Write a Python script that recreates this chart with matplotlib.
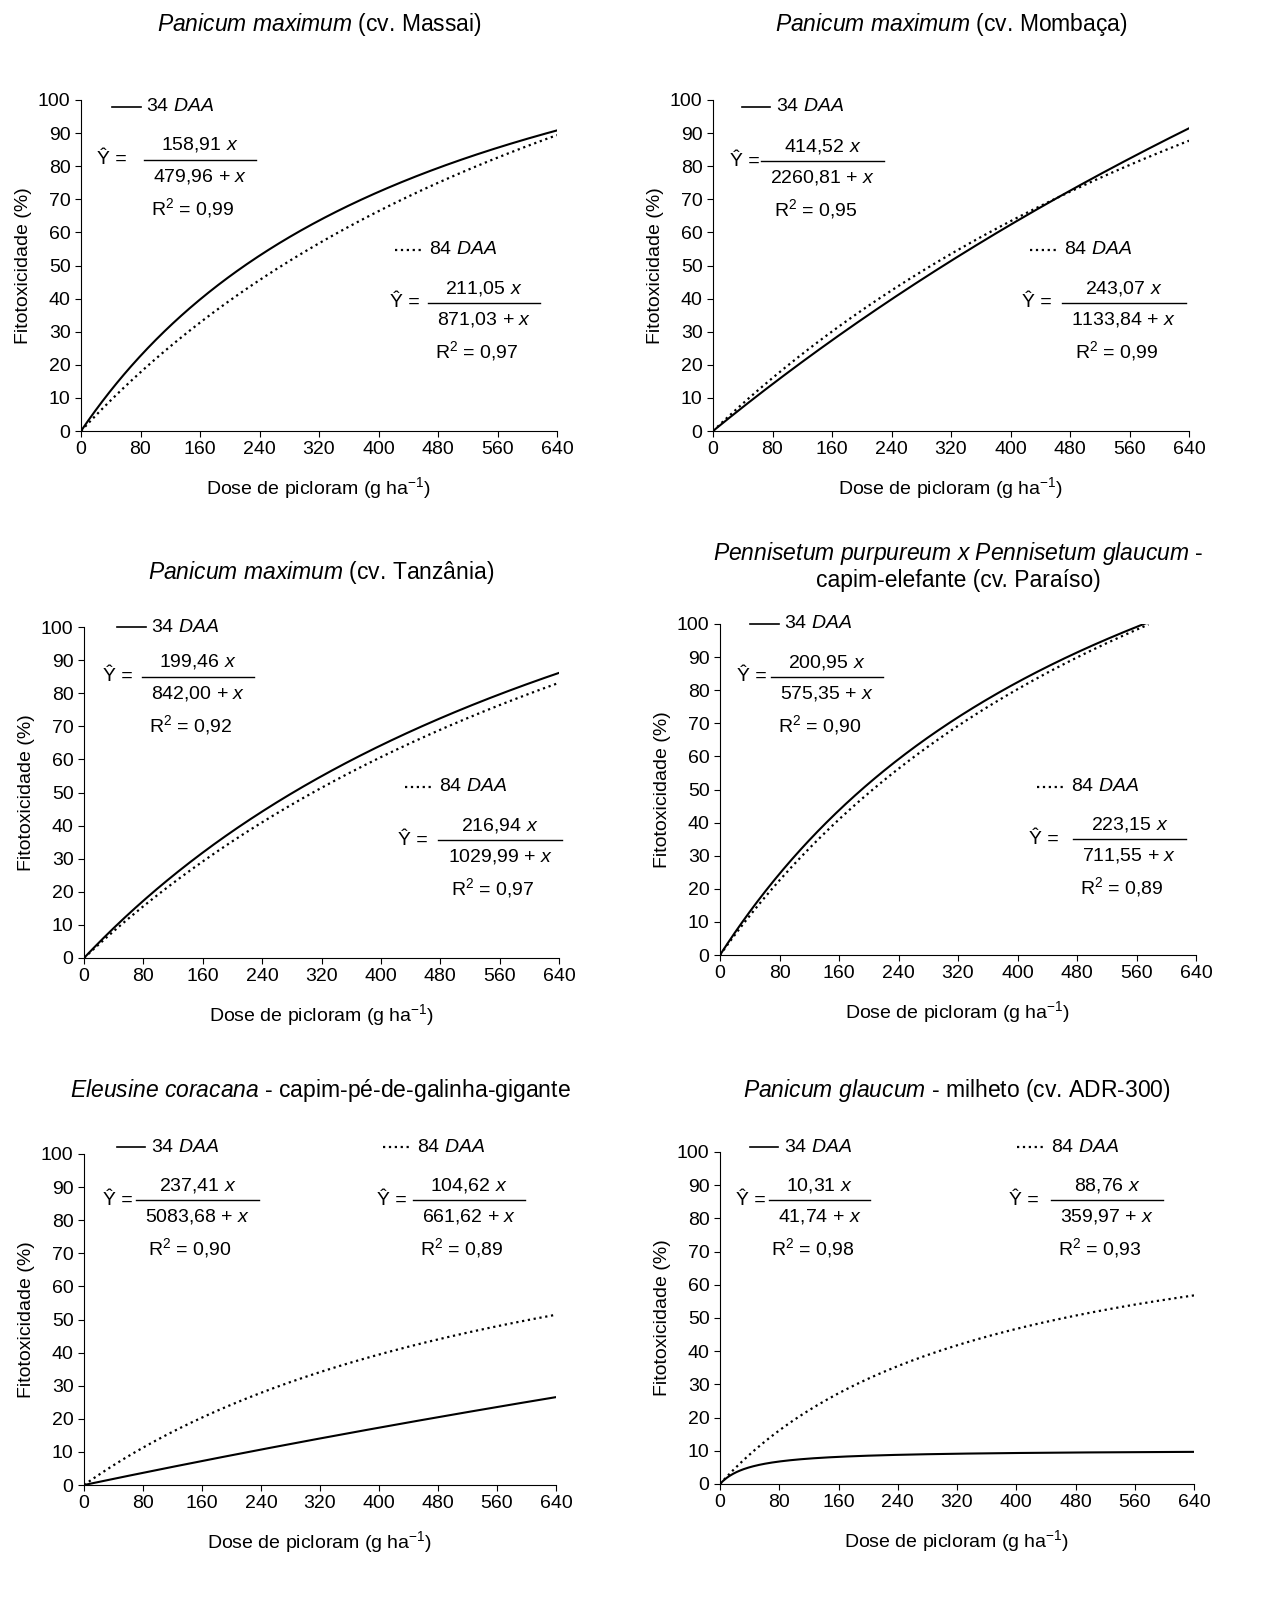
import numpy as np
import matplotlib
matplotlib.use("Agg")
import matplotlib.pyplot as plt

plt.rcParams['font.family'] = ['Liberation Sans', 'DejaVu Sans']
plt.rcParams['mathtext.fontset'] = 'custom'
plt.rcParams['mathtext.rm'] = 'Liberation Sans'
plt.rcParams['mathtext.it'] = 'Liberation Sans:italic'

titles = [r"$\it{Panicum\ maximum}$ (cv. Massai)",
          r"$\it{Panicum\ maximum}$ (cv. Mombaça)",
          r"$\it{Panicum\ maximum}$ (cv. Tanzânia)",
          r"$\it{Pennisetum\ purpureum\ x\ Pennisetum\ glaucum}$ -" + "\n" + "capim-elefante (cv. Paraíso)",
          r"$\it{Eleusine\ coracana}$ - capim-pé-de-galinha-gigante",
          r"$\it{Panicum\ glaucum}$ - milheto (cv. ADR-300)"]
a34 = [158.91, 414.52, 199.46, 200.95, 237.41, 10.31]
b34 = [479.96, 2260.81, 842.00, 575.35, 5083.68, 41.74]
r34 = ["0,99", "0,95", "0,92", "0,90", "0,90", "0,98"]
a84 = [211.05, 243.07, 216.94, 223.15, 104.62, 88.76]
b84 = [871.03, 1133.84, 1029.99, 711.55, 661.62, 359.97]
r84 = ["0,97", "0,99", "0,97", "0,89", "0,89", "0,93"]
xmax = [640, 640, 640, 576, 640, 640]
xticks = [0, 80, 160, 240, 320, 400, 480, 560, 640]
yticks = list(range(0, 101, 10))

def fmt(v):
    return f"{v:.2f}".replace(".", ",")

boxes = [(81, 557, 100, 431), (713, 1189, 100, 431), (84, 559, 627, 958),
         (720, 1196, 624, 955), (84, 556, 1154, 1485), (720, 1194, 1152, 1484)]
blk34 = [(0.065, 0.98, 0.034, 0.25, 0.82), (0.06, 0.98, 0.035, 0.23, 0.815),
         (0.07, 1.0, 0.04, 0.24, 0.85), (0.063, 1.0, 0.035, 0.225, 0.84),
         (0.07, 1.02, 0.04, 0.24, 0.86), (0.063, 1.015, 0.034, 0.21, 0.855)]
blk84 = [(0.66, 0.547, 0.65, 0.847, 0.387), (0.666, 0.547, 0.65, 0.863, 0.387),
         (0.675, 0.517, 0.66, 0.876, 0.356), (0.666, 0.508, 0.65, 0.86, 0.35),
         (0.633, 1.02, 0.62, 0.816, 0.86), (0.627, 1.015, 0.61, 0.816, 0.855)]
title_y = [25, 25, 572, 566, 1090, 1090]

W, H = 1262, 1623
fig = plt.figure(figsize=(W/100, H/100), dpi=100)
fs = 14

def block(ax, lay, a, b, r2, ls):
    lx, ly, yx, cx, cy = lay
    ax.plot([lx, lx+0.06], [ly, ly], transform=ax.transAxes, color='k', lw=1.2 if ls=='-' else 1.6, ls=ls, clip_on=False)
    lab = "34" if ls == '-' else "84"
    ax.text(lx+0.072, ly, lab + r" $\it{DAA}$", transform=ax.transAxes, fontsize=fs, va='center', ha='left')
    num = fmt(a) + r" $\it{x}$"
    den = fmt(b) + r" + $\it{x}$"
    hw = 0.0118*len(fmt(b)+" + x")
    ax.plot([cx-hw, cx+hw], [cy, cy], transform=ax.transAxes, color='k', lw=1, clip_on=False)
    ax.text(cx, cy+0.045, num, transform=ax.transAxes, fontsize=fs, ha='center', va='center')
    ax.text(cx, cy-0.05, den, transform=ax.transAxes, fontsize=fs, ha='center', va='center')
    ax.text(yx, cy, "Ŷ =", transform=ax.transAxes, fontsize=fs, ha='left', va='center')
    ax.text(cx-0.015, cy-0.145, r"R$^2$ = " + r2, transform=ax.transAxes, fontsize=fs, ha='center', va='center')

for i in range(6):
    x0, x1, yt, yb = boxes[i]
    ax = fig.add_axes([x0/W, 1-yb/H, (x1-x0)/W, (yb-yt)/H])
    x = np.linspace(0, xmax[i], 400)
    ax.plot(x, a34[i]*x/(b34[i]+x), 'k-', lw=1.5)
    ax.plot(x, a84[i]*x/(b84[i]+x), 'k:', lw=1.6)
    ax.set_xlim(0, 640); ax.set_ylim(0, 100)
    ax.set_xticks(xticks); ax.set_yticks(yticks)
    ax.spines['top'].set_visible(False); ax.spines['right'].set_visible(False)
    ax.tick_params(labelsize=fs, direction='out', length=4)
    ax.set_xlabel(r"Dose de picloram (g ha$^{-1}$)", fontsize=fs, labelpad=12)
    ax.set_ylabel("Fitotoxicidade (%)", fontsize=fs, labelpad=4)
    block(ax, blk34[i], a34[i], b34[i], r34[i], '-')
    block(ax, blk84[i], a84[i], b84[i], r84[i], ':')
    fig.text((x0+x1)/2/W, 1-title_y[i]/H, titles[i], fontsize=16.5, ha='center', va='center', linespacing=1.1)

fig.savefig("out.png", dpi=100)
